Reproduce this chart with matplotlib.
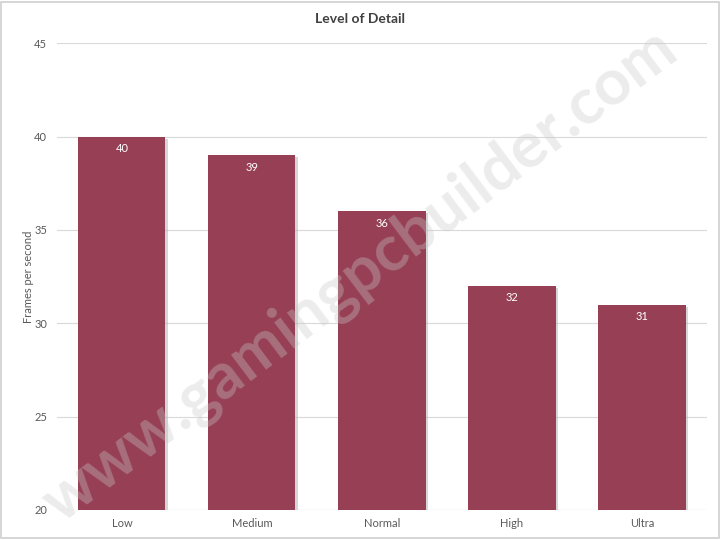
import matplotlib
matplotlib.use("Agg")
import matplotlib.pyplot as plt
import matplotlib.patheffects as pe
from matplotlib.patches import Rectangle

# Dati del grafico
categories = ["Low", "Medium", "Normal", "High", "Ultra"]
fps = [40, 39, 36, 32, 31]
y_ticks = [20, 25, 30, 35, 40, 45]

plt.rcParams['font.family'] = ['Lato', 'DejaVu Sans']

fig = plt.figure(figsize=(7.2, 5.4), dpi=100)
ax = fig.add_axes([0.079, 0.0556, 0.903, 0.8644])

bar_color = '#963F55'
bars = ax.bar(range(len(categories)), fps, width=0.67, color=bar_color, zorder=3,
              path_effects=[pe.SimplePatchShadow(offset=(2, -1.5), shadow_rgbFace='#b0b0b0', alpha=0.5),
                            pe.Normal()])

for i, v in enumerate(fps):
    ax.text(i, v - 0.35, str(v), ha='center', va='top', color='white', fontsize=8, zorder=4)

ax.set_ylim(20, 45)
ax.set_xlim(-0.5, len(categories) - 0.5)
ax.set_yticks(y_ticks)
ax.set_xticks(range(len(categories)))
ax.set_xticklabels(categories)
ax.tick_params(axis='both', length=0, colors='#595959', labelsize=8)
ax.tick_params(axis='y', pad=7)
ax.tick_params(axis='x', pad=6)
ax.grid(axis='y', color='#d9d9d9', linewidth=0.8, zorder=0)
for s in ax.spines.values():
    s.set_visible(False)
ax.axhline(20, color='#d9d9d9', linewidth=0.8, zorder=2)

ax.set_ylabel('Frames per second', color='#595959', fontsize=8, labelpad=0)
fig.text(0.5, 0.965, 'Level of Detail', ha='center', va='center', fontsize=10,
         fontweight='bold', color='#404040')

# Watermark
fig.text(0.5, 0.49, 'www.gamingpcbuilder.com', ha='center', va='center', rotation=37,
         fontsize=46, fontweight='bold', color='#c8c8c8', alpha=0.35, zorder=10)

# Bordo del grafico
fig.patches.append(Rectangle((0.002, 0.003), 0.996, 0.994, transform=fig.transFigure,
                             fill=False, edgecolor='#d0d0d0', linewidth=1.2))

fig.savefig('out.png', dpi=100)
